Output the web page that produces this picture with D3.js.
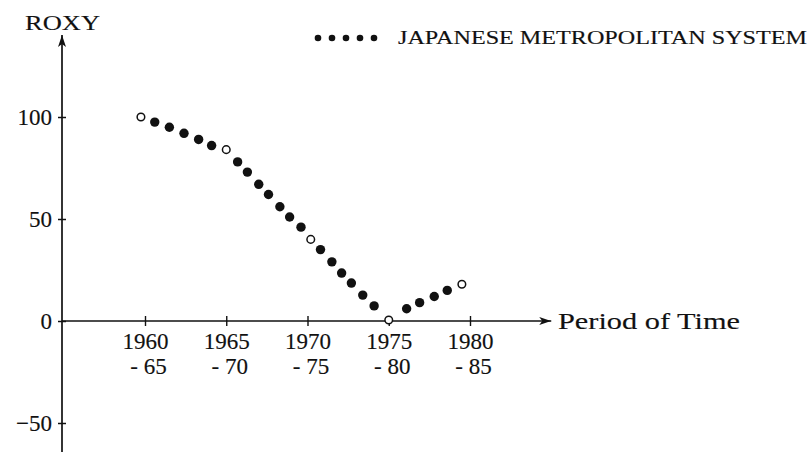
<!DOCTYPE html>
<html>
<head>
<meta charset="utf-8">
<script src="https://cdn.jsdelivr.net/npm/d3@7/dist/d3.min.js"></script>
<style>
  html, body { margin: 0; padding: 0; background: #fff; }
  svg { display: block; }
  text { font-family: "Liberation Serif", "DejaVu Serif", serif; fill: #111; stroke: #111; stroke-width: 0.15; }
</style>
</head>
<body>
<svg id="chart" width="812" height="452"></svg>
<script>
// ---- data ----
const tickYears = [1960, 1965, 1970, 1975, 1980];
const tickTop = ["1960", "1965", "1970", "1975", "1980"];
const tickBottom = ["- 65", "- 70", "- 75", "- 80", "- 85"];
const yTicks = [100, 50, 0, -50];
const yTickLabels = ["100", "50", "0", "\u221250"];
// observed points (period position in years, ROXY value)
const pointYears = [1959.75, 1960.6, 1961.5, 1962.4, 1963.3, 1964.1, 1965.0,
  1965.7, 1966.3, 1967.0, 1967.6, 1968.3, 1968.9, 1969.6, 1970.2,
  1970.8, 1971.5, 1972.1, 1972.7, 1973.4, 1974.1, 1975.0,
  1976.1, 1976.9, 1977.8, 1978.6, 1979.5];
const roxyValues = [100, 97.5, 95, 92, 89, 86, 84,
  78, 73, 67, 62, 56, 51, 46, 40,
  35, 29, 23.5, 18.6, 12.7, 7.4, 0.5,
  6, 9, 12, 15, 18];
const isObserved = [1, 0, 0, 0, 0, 0, 1,
  0, 0, 0, 0, 0, 0, 0, 1,
  0, 0, 0, 0, 0, 0, 1,
  0, 0, 0, 0, 1];
const legendLabel = "JAPANESE METROPOLITAN SYSTEM";
const legendDots = [0, 1, 2, 3, 4];

// ---- scales ----
const svg = d3.select("#chart");
const x = d3.scaleLinear().domain([1960, 1980]).range([145, 470]);
const y = d3.scaleLinear().domain([-50, 100]).range([423, 117]);
const axisX = 62;
const y0 = y(0);

const defs = svg.append("defs");
defs.append("marker").attr("id", "arrow")
  .attr("viewBox", "0 0 12 8").attr("refX", 12).attr("refY", 4)
  .attr("markerWidth", 12).attr("markerHeight", 8)
  .attr("markerUnits", "userSpaceOnUse").attr("orient", "auto")
  .append("path").attr("d", "M0,0 L12,4 L0,8 L3,4 Z").attr("fill", "#111");

// ---- axes lines ----
svg.append("line").attr("x1", axisX).attr("x2", axisX)
  .attr("y1", 452).attr("y2", 35)
  .attr("stroke", "#111").attr("stroke-width", 1.7)
  .attr("marker-end", "url(#arrow)");
svg.append("line").attr("x1", axisX).attr("x2", x(1985))
  .attr("y1", y0).attr("y2", y0)
  .attr("stroke", "#111").attr("stroke-width", 1.5)
  .attr("marker-end", "url(#arrow)");

// y axis ticks
const yAxis = d3.axisLeft(y).tickValues(yTicks)
  .tickFormat((d, i) => yTickLabels[i]).tickSize(4).tickPadding(6);
const gy = svg.append("g").attr("transform", `translate(${axisX},0)`).call(yAxis);
gy.select(".domain").remove();
gy.selectAll(".tick line").attr("x1", -4).attr("x2", 4).attr("stroke", "#111").attr("stroke-width", 1.5);
gy.selectAll(".tick text").attr("font-size", 23).attr("fill", "#111")
  .style("font-family", '"Liberation Serif", serif');

// x axis ticks
const xAxis = d3.axisBottom(x).tickValues(tickYears).tickSize(5).tickFormat("");
const gx = svg.append("g").attr("transform", `translate(0,${y0})`).call(xAxis);
gx.select(".domain").remove();
gx.selectAll(".tick line").attr("y1", -5).attr("y2", 5).attr("stroke", "#111").attr("stroke-width", 1.4);
gx.selectAll(".tick").each(function (d, i) {
  const t = d3.select(this).append("text").attr("text-anchor", "middle")
    .attr("font-size", 23).attr("fill", "#111");
  t.append("tspan").attr("x", 0).attr("y", 28).text(tickTop[i]);
  t.append("tspan").attr("x", 3).attr("y", 53).text(tickBottom[i]);
});

// axis titles
svg.append("text").attr("x", 25).attr("y", 30).attr("font-size", 22)
  .attr("textLength", 75).attr("lengthAdjust", "spacingAndGlyphs").text("ROXY");
svg.append("text").attr("x", 558).attr("y", 329).attr("font-size", 23)
  .attr("textLength", 182).attr("lengthAdjust", "spacingAndGlyphs").text("Period of Time");

// ---- data points ----
const pts = pointYears.map((yr, i) => ({ yr, v: roxyValues[i], open: isObserved[i] === 1 }));
svg.append("g").selectAll("circle").data(pts).join("circle")
  .attr("cx", d => x(d.yr)).attr("cy", d => y(d.v))
  .attr("r", d => d.open ? 3.8 : 4.7)
  .attr("fill", d => d.open ? "#fff" : "#111")
  .attr("stroke", "#111").attr("stroke-width", d => d.open ? 1.5 : 0);

// ---- legend ----
const lg = svg.append("g");
lg.selectAll("circle").data(legendDots).join("circle")
  .attr("cx", d => 318 + d * 14).attr("cy", 38).attr("r", 3.3).attr("fill", "#111");
lg.append("text").attr("x", 398).attr("y", 44).attr("font-size", 18)
  .attr("textLength", 409).attr("lengthAdjust", "spacingAndGlyphs").text(legendLabel);
</script>
</body>
</html>
